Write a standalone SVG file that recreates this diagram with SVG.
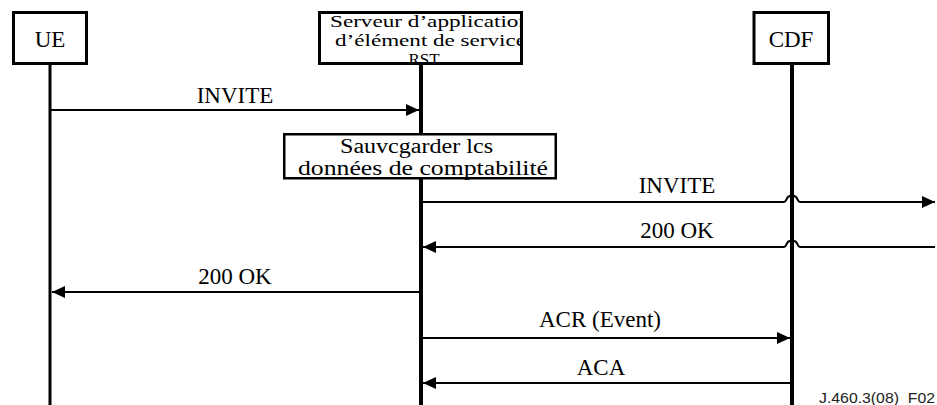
<svg xmlns="http://www.w3.org/2000/svg" width="937" height="405" viewBox="0 0 937 405">
  <style>
    .box { fill: #fff; stroke: #000; stroke-width: 3; }
    .note { fill: #fff; stroke: #000; stroke-width: 2.5; }
    .life { stroke: #000; fill: none; }
    .msg { stroke: #000; stroke-width: 2; fill: none; }
    text { font-family: "Liberation Serif", "Times New Roman", serif; fill: #000; }
    .lbl { font-size: 23px; text-anchor: middle; }
    .small { font-size: 17px; }
    .note-t { font-size: 20px; }
    .ref { font-family: "Liberation Sans", Arial, sans-serif; font-size: 14px; fill: #222; white-space: pre; }
  </style>
  <defs>
    <marker id="arrow" viewBox="0 0 13 12" refX="13" refY="6" markerWidth="13" markerHeight="12" markerUnits="userSpaceOnUse" orient="auto">
      <path d="M0,0 L13,6 L0,12 Z" fill="#000"/>
    </marker>
    <clipPath id="asClip">
      <rect x="318" y="11" width="205" height="54"/>
    </clipPath>
  </defs>

  <!-- lifelines -->
  <g id="lifelines">
    <line class="life" x1="50" y1="64" x2="50" y2="405" stroke-width="3"/>
    <line class="life" x1="421" y1="64" x2="421" y2="134" stroke-width="4"/>
    <line class="life" x1="421" y1="178" x2="421" y2="405" stroke-width="4"/>
    <line class="life" x1="792" y1="64" x2="792" y2="405" stroke-width="4"/>
  </g>

  <g id="ue">
    <rect class="box" x="13.5" y="12.5" width="73" height="51"/>
    <text class="lbl" x="50" y="47">UE</text>
  </g>

  <!-- application server: label overflows and is cut by the frame -->
  <g id="as">
    <rect x="319.5" y="12.5" width="202" height="51" fill="#fff"/>
    <g clip-path="url(#asClip)">
      <text class="small" x="330" y="27" textLength="200" lengthAdjust="spacingAndGlyphs">Serveur d’application</text>
      <text class="small" x="335" y="46" textLength="191" lengthAdjust="spacingAndGlyphs">d’élément de service</text>
      <text class="small" x="424" y="65" text-anchor="middle">RST</text>
    </g>
    <rect x="319.5" y="12.5" width="202" height="51" fill="none" stroke="#000" stroke-width="3"/>
  </g>

  <g id="cdf">
    <rect class="box" x="754" y="12.5" width="74.5" height="51"/>
    <text class="lbl" x="791" y="47">CDF</text>
  </g>

  <g id="save-note">
    <rect class="note" x="284.25" y="134.25" width="271.5" height="44"/>
    <text class="note-t" x="340" y="153" textLength="153" lengthAdjust="spacingAndGlyphs">Sauvcgarder lcs</text>
    <text class="note-t" x="298" y="175" textLength="250" lengthAdjust="spacingAndGlyphs">données de comptabilité</text>
  </g>

  <!-- messages (the far-right pair hops over the CDF lifeline) -->
  <g id="connectors">
    <line class="msg" x1="50" y1="110" x2="419" y2="110" marker-end="url(#arrow)"/>
    <text class="lbl" x="235" y="103">INVITE</text>

    <path class="msg" d="M423,202 H784 C787,202 786,196 790,196 H794 C798,196 797,202 800,202 H935" marker-end="url(#arrow)"/>
    <text class="lbl" x="677" y="193">INVITE</text>

    <path class="msg" d="M935,247 H800 C797,247 798,241 794,241 H790 C786,241 787,247 784,247 H423" marker-end="url(#arrow)"/>
    <text class="lbl" x="677" y="238">200 OK</text>

    <line class="msg" x1="419" y1="292" x2="52" y2="292" marker-end="url(#arrow)"/>
    <text class="lbl" x="235" y="284">200 OK</text>

    <line class="msg" x1="423" y1="338" x2="790" y2="338" marker-end="url(#arrow)"/>
    <text class="lbl" x="600" y="327">ACR (Event)</text>

    <line class="msg" x1="790" y1="383" x2="423" y2="383" marker-end="url(#arrow)"/>
    <text class="lbl" x="601" y="375">ACA</text>
  </g>

  <text class="ref" x="819" y="403" textLength="116" lengthAdjust="spacingAndGlyphs">J.460.3(08)  F02</text>
</svg>
